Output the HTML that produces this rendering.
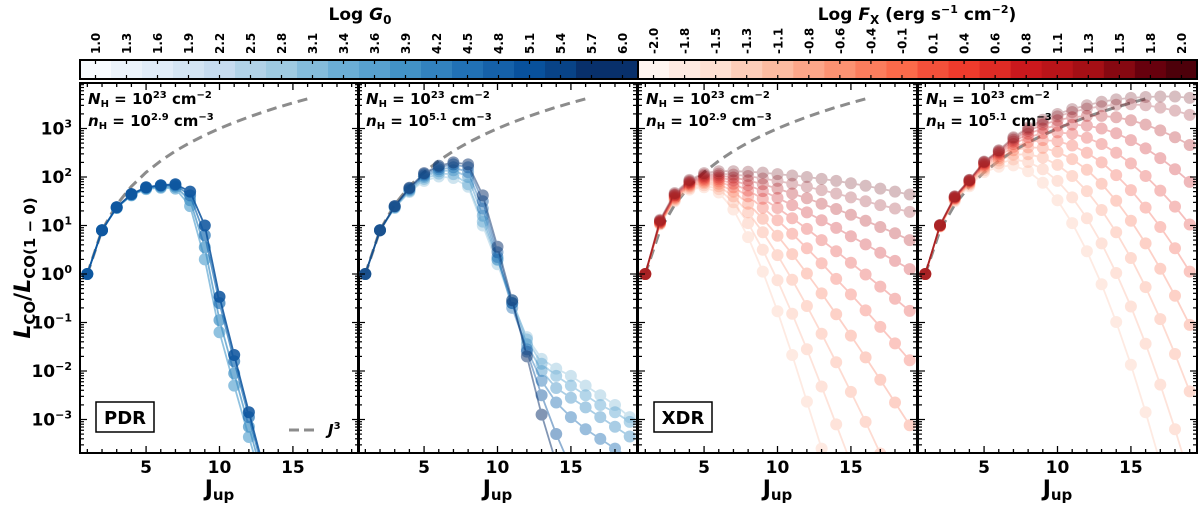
<!DOCTYPE html>
<html><head><meta charset="utf-8"><style>
body{margin:0;background:#fff;width:1200px;height:506px;overflow:hidden}
svg{font-family:"DejaVu Sans","Liberation Sans",sans-serif;font-weight:bold}
</style></head><body>
<svg id="chart" width="1200" height="506" viewBox="0 0 1200 506" xmlns="http://www.w3.org/2000/svg"></svg>
<script>
// ---- data (log10 of L_CO / L_CO(1-0)), index = J_up - 1 ----
const jup = [1,2,3,4,5,6,7,8,9,10,11,12,13,14,15,16,17,18,19];
const j3Line = [1,2,3,4,5,6,7,8,9,10,11,12,13,14,15,16];
const g0Labels = ["1.0","1.3","1.6","1.9","2.2","2.5","2.8","3.1","3.4","3.6","3.9","4.2","4.5","4.8","5.1","5.4","5.7","6.0"];
const fxLabels = ["-2.0","-1.8","-1.5","-1.3","-1.1","-0.8","-0.6","-0.4","-0.1","0.1","0.4","0.6","0.8","1.1","1.3","1.5","1.8","2.0"];
const yTicks = [-3,-2,-1,0,1,2,3];
const xTicks = [5,10,15];
// PDR low density (light -> dark)
const pdrLow3 = [0,0.9,1.36,1.62,1.75,1.78,1.76,1.40,0.30,-1.20,-2.30,-3.36,-4.4];
const pdrLow2 = [0,0.9,1.37,1.63,1.77,1.80,1.80,1.52,0.55,-0.95,-2.05,-3.15,-4.25];
const pdrLow1 = [0,0.9,1.37,1.64,1.78,1.82,1.83,1.62,0.80,-0.60,-1.80,-2.95,-4.1];
const pdrLow0 = [0,0.9,1.38,1.65,1.79,1.83,1.85,1.70,1.00,-0.47,-1.67,-2.85,-4.0,-5.1];
// PDR high density
const pdrHigh5 = [0,0.9,1.36,1.69,1.92,2.01,1.98,1.80,1.00,0.20,-0.60,-1.30,-1.75,-1.95,-2.10,-2.30,-2.50,-2.70,-2.95];
const pdrHigh4 = [0,0.9,1.37,1.71,1.96,2.07,2.06,1.85,1.08,0.29,-0.54,-1.35,-1.85,-2.10,-2.30,-2.50,-2.70,-2.85,-3.05];
const pdrHigh3 = [0,0.9,1.38,1.73,2.00,2.12,2.14,2.00,1.20,0.30,-0.60,-1.45,-2.00,-2.35,-2.55,-2.75,-2.95,-3.15,-3.35];
const pdrHigh2 = [0,0.9,1.39,1.75,2.03,2.16,2.20,2.10,1.35,0.35,-0.70,-1.55,-2.20,-2.65,-2.95,-3.20,-3.40,-3.60,-3.80];
const pdrHigh1 = [0,0.9,1.40,1.77,2.06,2.20,2.26,2.20,1.50,0.45,-0.60,-1.60,-2.50,-3.30,-4.00];
const pdrHigh0 = [0,0.9,1.40,1.78,2.08,2.23,2.30,2.26,1.62,0.56,-0.54,-1.70,-2.90,-3.90];
// XDR low density (light -> dark)
const xdrLow9 = [0,1.02,1.50,1.74,1.79,1.68,1.33,0.76,0.05,-0.77,-1.67,-2.63,-3.6,-4.6];
const xdrLow8 = [0,1.03,1.52,1.77,1.83,1.75,1.48,1.05,0.50,-0.13,-0.82,-1.55,-2.32,-3.1,-3.9,-4.7];
const xdrLow7 = [0,1.04,1.54,1.80,1.87,1.81,1.60,1.27,0.86,0.39,-0.12,-0.66,-1.23,-1.82,-2.43,-3.05,-3.7,-4.3];
const xdrLow6 = [0,1.05,1.56,1.82,1.90,1.86,1.70,1.45,1.14,0.79,0.41,0.01,-0.40,-0.83,-1.27,-1.72,-2.18,-2.65,-3.12];
const xdrLow5 = [0,1.06,1.58,1.84,1.93,1.91,1.79,1.60,1.37,1.11,0.83,0.53,0.22,-0.10,-0.42,-0.75,-1.09,-1.43,-1.78];
const xdrLow4 = [0,1.07,1.60,1.86,1.96,1.95,1.86,1.72,1.55,1.36,1.15,0.93,0.70,0.47,0.23,-0.01,-0.26,-0.51,-0.76];
const xdrLow3 = [0,1.08,1.62,1.88,1.99,1.99,1.93,1.83,1.71,1.57,1.42,1.27,1.11,0.95,0.78,0.61,0.44,0.27,0.10];
const xdrLow2 = [0,1.10,1.63,1.90,2.02,2.03,1.99,1.93,1.85,1.76,1.66,1.56,1.45,1.34,1.22,1.10,0.97,0.84,0.70];
const xdrLow1 = [0,1.10,1.65,1.92,2.05,2.07,2.05,2.02,1.97,1.92,1.86,1.80,1.73,1.66,1.58,1.50,1.42,1.35,1.28];
const xdrLow0 = [0,1.12,1.67,1.94,2.08,2.12,2.12,2.11,2.09,2.06,2.03,2.00,1.96,1.92,1.87,1.82,1.76,1.70,1.64];
// XDR high density
const xdrHigh9 = [0,0.98,1.50,1.81,2.10,2.21,2.24,2.12,1.88,1.52,1.05,0.47,-0.21,-0.99,-1.87,-2.85,-3.9,-5];
const xdrHigh8 = [0,0.98,1.52,1.84,2.14,2.28,2.36,2.31,2.16,1.92,1.58,1.15,0.63,0.02,-0.67,-1.44,-2.28,-3.2,-4.2];
const xdrHigh7 = [0,0.99,1.54,1.86,2.18,2.34,2.46,2.47,2.40,2.25,2.02,1.71,1.32,0.86,0.33,-0.27,-0.93,-1.65,-2.42];
const xdrHigh6 = [0,0.99,1.55,1.88,2.21,2.39,2.55,2.61,2.60,2.52,2.37,2.15,1.86,1.51,1.10,0.63,0.11,-0.45,-1.05];
const xdrHigh5 = [0,1.00,1.56,1.90,2.24,2.43,2.62,2.72,2.76,2.74,2.65,2.50,2.30,2.04,1.73,1.37,0.97,0.53,0.05];
const xdrHigh4 = [0,1.00,1.57,1.91,2.26,2.47,2.68,2.82,2.90,2.92,2.89,2.81,2.68,2.50,2.28,2.02,1.72,1.39,1.02];
const xdrHigh3 = [0,1.00,1.58,1.92,2.28,2.50,2.73,2.89,3.00,3.06,3.08,3.06,3.00,2.90,2.76,2.59,2.39,2.16,1.90];
const xdrHigh2 = [0,1.00,1.59,1.93,2.30,2.52,2.77,2.95,3.08,3.17,3.23,3.26,3.26,3.23,3.17,3.08,2.96,2.82,2.66];
const xdrHigh1 = [0,1.01,1.60,1.94,2.31,2.54,2.80,2.99,3.14,3.25,3.34,3.41,3.46,3.49,3.50,3.48,3.43,3.37,3.28];
const xdrHigh0 = [0,1.01,1.60,1.94,2.32,2.55,2.82,3.02,3.18,3.30,3.40,3.48,3.55,3.60,3.63,3.65,3.66,3.66,3.63];

const NS="http://www.w3.org/2000/svg";
const svg=document.getElementById('chart');
function mk(tag,attrs,parent){const e=document.createElementNS(NS,tag);for(const k in attrs)e.setAttribute(k,attrs[k]);(parent||svg).appendChild(e);return e;}

const panels=[
 {x0:80,name:'pdr-low',series:[pdrLow3,pdrLow2,pdrLow1,pdrLow0],cols:['#6baed6','#4292c6','#2171b5','#08519c'],alpha:[0.75,0.7,0.7,0.85],ne:'2.9',box:'PDR',legend:true},
 {x0:358,name:'pdr-high',series:[pdrHigh5,pdrHigh4,pdrHigh3,pdrHigh2,pdrHigh1,pdrHigh0],cols:['#9ecae1','#6baed6','#4292c6','#2171b5','#08519c','#08306b'],alpha:[0.5,0.5,0.45,0.45,0.45,0.5],ne:'5.1'},
 {x0:638,name:'xdr-low',series:[xdrLow9,xdrLow8,xdrLow7,xdrLow6,xdrLow5,xdrLow4,xdrLow3,xdrLow2,xdrLow1,xdrLow0],cols:['#fcbba1','#fca487','#fc8a6a','#fb6a4a','#f24a36','#e32f27','#cb181d','#b11218','#8e0a14','#67000d'],alpha:[0.3,0.3,0.3,0.3,0.3,0.3,0.3,0.3,0.25,0.25],ne:'2.9',box:'XDR'},
 {x0:918,name:'xdr-high',series:[xdrHigh9,xdrHigh8,xdrHigh7,xdrHigh6,xdrHigh5,xdrHigh4,xdrHigh3,xdrHigh2,xdrHigh1,xdrHigh0],cols:['#fcbba1','#fca487','#fc8a6a','#fb6a4a','#f24a36','#e32f27','#cb181d','#b11218','#8e0a14','#67000d'],alpha:[0.3,0.3,0.3,0.3,0.3,0.3,0.3,0.3,0.25,0.25],ne:'5.1'}
];
const PW=279, TOP=83, BOT=453;
const yOf=v=>274-48.5*v;
const xOf=(p,j)=>p.x0+(j-0.5)*(PW/19);

panels.forEach((p,pi)=>{
  const g=mk('g',{});
  
  
  const cid='clip'+pi;
  const cp=mk('clipPath',{id:cid},g); mk('rect',{x:p.x0,y:TOP,width:PW,height:BOT-TOP},cp);
  const pg=mk('g',{'clip-path':'url(#'+cid+')'},g);
  const d=j3Line.map((j,i)=>(i?'L':'M')+xOf(p,j).toFixed(1)+','+yOf(3*Math.log10(j)).toFixed(1)).join('');
  const jl=mk('path',{d:d,fill:'none',stroke:'#8c8c8c','stroke-width':3,'stroke-dasharray':'10,6'},pg);
  
  
  p.series.forEach((s,si)=>{
    const sg=mk('g',{opacity:p.alpha[si]},pg);
    
    
    const dd=s.map((v,i)=>(i?'L':'M')+xOf(p,jup[i]).toFixed(1)+','+yOf(v).toFixed(1)).join('');
    mk('path',{d:dd,fill:'none',stroke:p.cols[si],'stroke-width':1.8},sg);
    s.forEach((v,i)=>{
      const c=mk('circle',{cx:xOf(p,jup[i]).toFixed(1),cy:yOf(v).toFixed(1),r:6,fill:p.cols[si]},sg);
      
      
    });
  });
  const fr=mk('rect',{x:p.x0,y:TOP,width:PW,height:BOT-TOP,fill:'none',stroke:'#000','stroke-width':2},g);
  
  
  for(let j=1;j<=19;j++){
    const x=xOf(p,j), L=(j%5===0)?7:4;
    mk('line',{x1:x,x2:x,y1:BOT,y2:BOT-L,stroke:'#000','stroke-width':1.3},g);
    mk('line',{x1:x,x2:x,y1:TOP,y2:TOP+L,stroke:'#000','stroke-width':1.3},g);
  }
  xTicks.forEach(t=>{
    const tl=mk('text',{x:xOf(p,t),y:BOT+20,'text-anchor':'middle','font-size':17},g);
    tl.textContent=t;
    
    
  });
  for(let e=-4;e<=3;e++){
    for(let m=1;m<=9;m++){
      const y=yOf(e+Math.log10(m)); if(y<TOP||y>BOT) continue;
      const L=m===1?7:4;
      mk('line',{x1:p.x0,x2:p.x0+L,y1:y,y2:y,stroke:'#000','stroke-width':1.2},g);
      mk('line',{x1:p.x0+PW,x2:p.x0+PW-L,y1:y,y2:y,stroke:'#000','stroke-width':1.2},g);
    }
  }
  const xl=mk('text',{x:p.x0+PW/2,y:496,'text-anchor':'middle','font-size':22},g);
  xl.innerHTML='J<tspan font-size="15" dy="4">up</tspan>';
  
  
  const t1=mk('text',{x:p.x0+8,y:104,'font-size':15},g);
  t1.innerHTML='<tspan font-style="italic">N</tspan><tspan font-size="10" dy="3">H</tspan><tspan dy="-3"> = 10</tspan><tspan font-size="10" dy="-6">23</tspan><tspan dy="6"> cm</tspan><tspan font-size="10" dy="-6">−2</tspan>';
  
  
  const t2=mk('text',{x:p.x0+8,y:126,'font-size':15},g);
  t2.innerHTML='<tspan font-style="italic">n</tspan><tspan font-size="10" dy="3">H</tspan><tspan dy="-3"> = 10</tspan><tspan font-size="10" dy="-6">'+p.ne+'</tspan><tspan dy="6"> cm</tspan><tspan font-size="10" dy="-6">−3</tspan>';
  
  
  if(p.box){
    const bg=mk('g',{},g);
    
    
    mk('rect',{x:p.x0+16,y:402,width:58,height:30,fill:'#fff',stroke:'#000','stroke-width':1.5},bg);
    const bt=mk('text',{x:p.x0+45,y:424,'text-anchor':'middle','font-size':18},bg);
    bt.textContent=p.box;
  }
  if(p.legend){
    const lg=mk('g',{},g);
    
    
    mk('line',{x1:289,x2:318,y1:430,y2:430,stroke:'#8c8c8c','stroke-width':3,'stroke-dasharray':'10,5'},lg);
    const lt=mk('text',{x:328,y:435,'font-size':15,'font-style':'italic'},lg);
    lt.innerHTML='J<tspan font-size="10" dy="-6" font-style="normal">3</tspan>';
  }
});
yTicks.forEach(e=>{
  const t=mk('text',{x:72,y:yOf(e)+6,'text-anchor':'end','font-size':17});
  t.innerHTML='10<tspan font-size="11" dy="-7">'+(e<0?'−'+(-e):e)+'</tspan>';
  
  
});
const yt=mk('text',{x:0,y:0,'text-anchor':'middle','font-size':22,transform:'translate(30,268) rotate(-90)'});
yt.innerHTML='<tspan font-style="italic">L</tspan><tspan font-size="15" dy="5">CO</tspan><tspan dy="-5">/</tspan><tspan font-style="italic">L</tspan><tspan font-size="15" dy="5">CO(1 − 0)</tspan>';



const blues=['#f7fbff','#ebf3fb','#e0ecf8','#d3e4f3','#c6dbef','#b1d2e7','#9ecae1','#84bcdb','#6baed6','#58a1cf','#4292c6','#3282be','#2171b5','#1561a9','#08519c','#084387','#08306b','#08306b'];
const reds=['#fff5f0','#feeae1','#fee0d2','#fdcdb9','#fcbba1','#fca689','#fc9272','#fb7d5d','#fb6a4a','#f4503a','#ef3b2c','#de2b25','#cb181d','#ba1419','#a50f15','#860811','#67000d','#4d000a'];
function colorbar(x0,x1,cols,labels,name){
  const g=mk('g',{});
  
  
  const w=(x1-x0)/labels.length;
  labels.forEach((l,i)=>{
    mk('rect',{x:x0+i*w,y:60,width:w+0.5,height:19,fill:cols[i]},g);
    const cx=x0+(i+0.5)*w;
    mk('line',{x1:cx,x2:cx,y1:60,y2:64,stroke:'#000','stroke-width':1.2},g);
    mk('line',{x1:cx,x2:cx,y1:79,y2:75,stroke:'#000','stroke-width':1.2},g);
    const t=mk('text',{x:0,y:0,'font-size':12,'text-anchor':'start',transform:'translate('+(cx+4.5)+',54) rotate(-90)'},g);
    t.textContent=l;
    
    
  });
  mk('rect',{x:x0,y:60,width:x1-x0,height:19,fill:'none',stroke:'#000','stroke-width':2},g);
}
colorbar(80,638,blues,g0Labels,'colorbar-g0');
colorbar(638,1197,reds,fxLabels,'colorbar-fx');
const ct1=mk('text',{x:360,y:20,'text-anchor':'middle','font-size':17});
ct1.innerHTML='Log <tspan font-style="italic">G</tspan><tspan font-size="12" dy="4">0</tspan>';


const ct2=mk('text',{x:917,y:20,'text-anchor':'middle','font-size':17});
ct2.innerHTML='Log <tspan font-style="italic">F</tspan><tspan font-size="12" dy="4">X</tspan><tspan dy="-4"> (erg s</tspan><tspan font-size="11" dy="-7">−1</tspan><tspan dy="7"> cm</tspan><tspan font-size="11" dy="-7">−2</tspan><tspan dy="7">)</tspan>';


</script>
</body></html>
